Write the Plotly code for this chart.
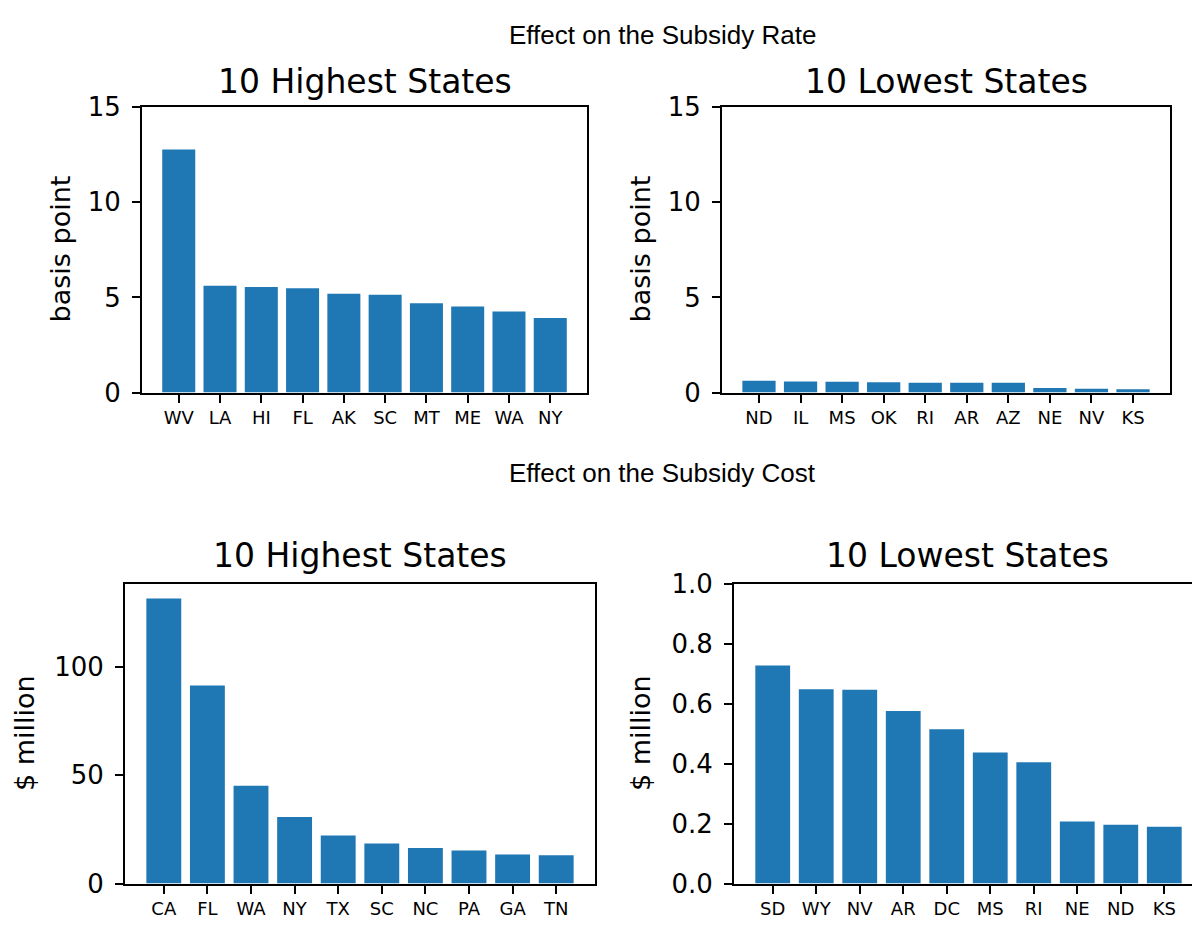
import plotly.graph_objects as go

rate_high_states = ["WV", "LA", "HI", "FL", "AK", "SC", "MT", "ME", "WA", "NY"]
rate_high_values = [12.78, 5.62, 5.55, 5.48, 5.19, 5.14, 4.70, 4.53, 4.26, 3.92]

rate_low_states = ["ND", "IL", "MS", "OK", "RI", "AR", "AZ", "NE", "NV", "KS"]
rate_low_values = [0.62, 0.58, 0.57, 0.54, 0.52, 0.52, 0.52, 0.24, 0.20, 0.17]

cost_high_states = ["CA", "FL", "WA", "NY", "TX", "SC", "NC", "PA", "GA", "TN"]
cost_high_values = [131.5, 91.3, 45.1, 30.7, 22.2, 18.5, 16.4, 15.2, 13.4, 13.0]

cost_low_states = ["SD", "WY", "NV", "AR", "DC", "MS", "RI", "NE", "ND", "KS"]
cost_low_values = [0.728, 0.649, 0.647, 0.576, 0.515, 0.438, 0.405, 0.207, 0.196, 0.190]

# figure sized to fit inside the 1200x938 window with the page's 8px body margin
OFF = 8
W, H = 1200 - 2 * OFF, 938 - 2 * OFF
BLUE = "#1f77b4"
FONT = "DejaVu Sans"


def px(x):
    return (x - OFF) / W


def py(y):
    return 1 - (y - OFF) / H


# (states, values, x0, x1, ytop, ybot, yrange, ticks, fmt, mirror_y)
panels = [
    (rate_high_states, rate_high_values, 142, 587, 95, 390, [0, 15], [0, 5, 10, 15], None, True),
    (rate_low_states, rate_low_values, 722, 1170, 95, 390, [0, 15], [0, 5, 10, 15], None, True),
    (cost_high_states, cost_high_values, 125, 595, 588, 897.5, [0, 131.5 * 1.05], [0, 50, 100], None, True),
    (cost_low_states, cost_low_values, 734, 1203, 588, 897.5, [0, 1.0], [0, 0.2, 0.4, 0.6, 0.8, 1.0], ".1f", False),
]

fig = go.Figure()
layout = dict(
    width=W, height=H,
    margin=dict(l=0, r=0, t=0, b=0),
    paper_bgcolor="white", plot_bgcolor="white",
    showlegend=False,
    font=dict(family=FONT, color="black"),
)

for i, (states, vals, x0, x1, yt, yb, yr, ticks, fmt, mir) in enumerate(panels):
    n = i + 1
    xa = "x" if n == 1 else f"x{n}"
    ya = "y" if n == 1 else f"y{n}"
    fig.add_trace(go.Bar(
        x=list(range(len(states))), y=vals, xaxis=xa, yaxis=ya,
        marker=dict(color=BLUE, line=dict(width=0)), width=0.8,
    ))
    xkey = "xaxis" if n == 1 else f"xaxis{n}"
    ykey = "yaxis" if n == 1 else f"yaxis{n}"
    # x range: matplotlib-like limits, cut at the window edge when needed
    d0, d1 = px(x0), px(x1)
    r0, r1 = -0.89, 9.89
    if d1 > 1.0:
        r1 = r0 + (r1 - r0) * (1.0 - d0) / (d1 - d0)
        d1 = 1.0
    layout[xkey] = dict(
        domain=[d0, d1], anchor=ya, range=[r0, r1],
        tickmode="array", tickvals=list(range(len(states))), ticktext=states,
        showline=True, linecolor="black", linewidth=2, mirror=True,
        ticks="outside", ticklen=8, tickwidth=2, tickcolor="black",
        showgrid=False, zeroline=False, fixedrange=True,
        tickfont=dict(family=FONT, size=18, color="black"),
    )
    yd = dict(
        domain=[py(yb), py(yt)], anchor=xa, range=yr,
        tickmode="array", tickvals=ticks,
        showline=True, linecolor="black", linewidth=2, mirror=mir,
        ticks="outside", ticklen=8, tickwidth=2, tickcolor="black",
        showgrid=False, zeroline=False, fixedrange=True,
        tickfont=dict(family=FONT, size=26, color="black"),
        ticklabelstandoff=6,
    )
    if fmt:
        yd["tickformat"] = fmt
    layout[ykey] = yd

fig.update_layout(**layout)

annotations = [
    dict(text="Effect on the Subsidy Rate", x=662, y=20, size=26, family="Liberation Sans", angle=0),
    dict(text="Effect on the Subsidy Cost", x=662, y=473, size=26, family="Liberation Sans", angle=0),
    dict(text="10 Highest States", x=364.5, y=68, size=33, family=FONT, angle=0),
    dict(text="10 Lowest States", x=946, y=68, size=33, family=FONT, angle=0),
    dict(text="10 Highest States", x=360, y=558, size=33, family=FONT, angle=0),
    dict(text="10 Lowest States", x=967, y=558, size=33, family=FONT, angle=0),
    dict(text="basis point", x=60, y=242, size=27, family=FONT, angle=-90),
    dict(text="basis point", x=640, y=242, size=27, family=FONT, angle=-90),
    dict(text="$ million", x=24, y=742, size=27, family=FONT, angle=-90),
    dict(text="$ million", x=640, y=742, size=27, family=FONT, angle=-90),
]
for a in annotations:
    fig.add_annotation(
        text=a["text"], x=px(a["x"]), y=py(a["y"]), xref="paper", yref="paper",
        xanchor="center", yanchor="middle", showarrow=False, textangle=a["angle"],
        font=dict(family=a["family"], size=a["size"], color="black"),
    )

fig.write_html("out.html")
